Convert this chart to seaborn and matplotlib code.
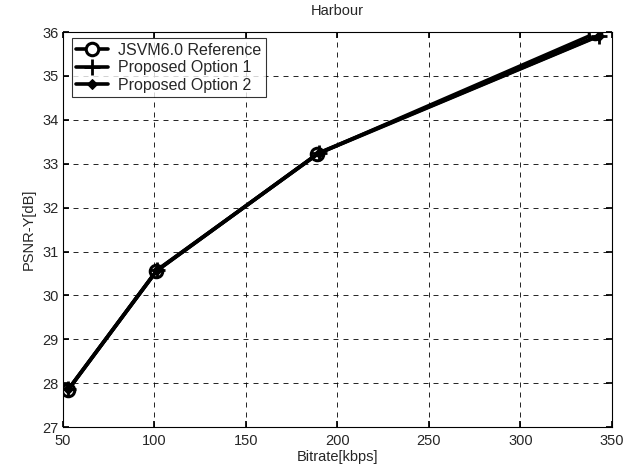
import matplotlib
matplotlib.use("Agg")
import matplotlib.pyplot as plt
import seaborn as sns
import pandas as pd

bitrate_ref = [53, 101, 189, 341]
psnr_ref = [27.85, 30.55, 33.22, 35.97]
bitrate_opt1 = [53, 101.5, 190, 343]
psnr_opt1 = [27.86, 30.57, 33.25, 35.92]
bitrate_opt2 = [53, 101.5, 190, 343]
psnr_opt2 = [27.86, 30.58, 33.24, 35.91]
series_names = ["JSVM6.0 Reference", "Proposed Option 1", "Proposed Option 2"]
x_ticks = [50, 100, 150, 200, 250, 300, 350]
y_ticks = [27, 28, 29, 30, 31, 32, 33, 34, 35, 36]

sns.set_theme(style="white")
plt.rcParams['font.family'] = ['Liberation Sans', 'DejaVu Sans']

fig = plt.figure(figsize=(6.34, 4.71), dpi=100)
ax = fig.add_axes([0.099, 0.093, 0.866, 0.839])

frames = [
    pd.DataFrame({"x": bitrate_ref, "y": psnr_ref}),
    pd.DataFrame({"x": bitrate_opt1, "y": psnr_opt1}),
    pd.DataFrame({"x": bitrate_opt2, "y": psnr_opt2}),
]
styles = [
    dict(marker="o", markersize=9, markerfacecolor="white", markeredgecolor="black", markeredgewidth=2.2),
    dict(marker="+", markersize=11, markeredgewidth=2, markeredgecolor="black"),
    dict(marker="D", markersize=5, markerfacecolor="black", markeredgecolor="black"),
]
for df, name, st in zip(frames, series_names, styles):
    sns.lineplot(data=df, x="x", y="y", ax=ax, color="black", linewidth=2.6,
                 label=name, sort=False, **st)

ax.set_xlim(50, 350)
ax.set_ylim(27, 36)
ax.set_xticks(x_ticks)
ax.set_yticks(y_ticks)
ax.grid(True, linestyle=(0, (6, 6)), color="black", linewidth=0.6)
ax.tick_params(direction="in", length=4, color="black", labelsize=10.5,
               top=True, right=True, bottom=True, left=True)
ax.tick_params(axis="x", pad=5)
ax.tick_params(axis="y", pad=3)
for s in ax.spines.values():
    s.set_color("black")
    s.set_linewidth(0.8)
ax.set_xlabel("Bitrate[kbps]", fontsize=10.5, labelpad=1)
ax.set_ylabel("PSNR-Y[dB]", fontsize=10.5, labelpad=5)
ax.set_title("Harbour", fontsize=10.5, pad=12)

leg = ax.legend(loc="upper left", fontsize=11.5, frameon=True, fancybox=False,
                edgecolor="black", handlelength=2.0, handletextpad=0.6,
                borderpad=0.3, labelspacing=0.15, borderaxespad=0.0,
                bbox_to_anchor=(0.016, 0.985))
leg.get_frame().set_linewidth(0.8)

fig.savefig("out.png", dpi=100, facecolor="white")
